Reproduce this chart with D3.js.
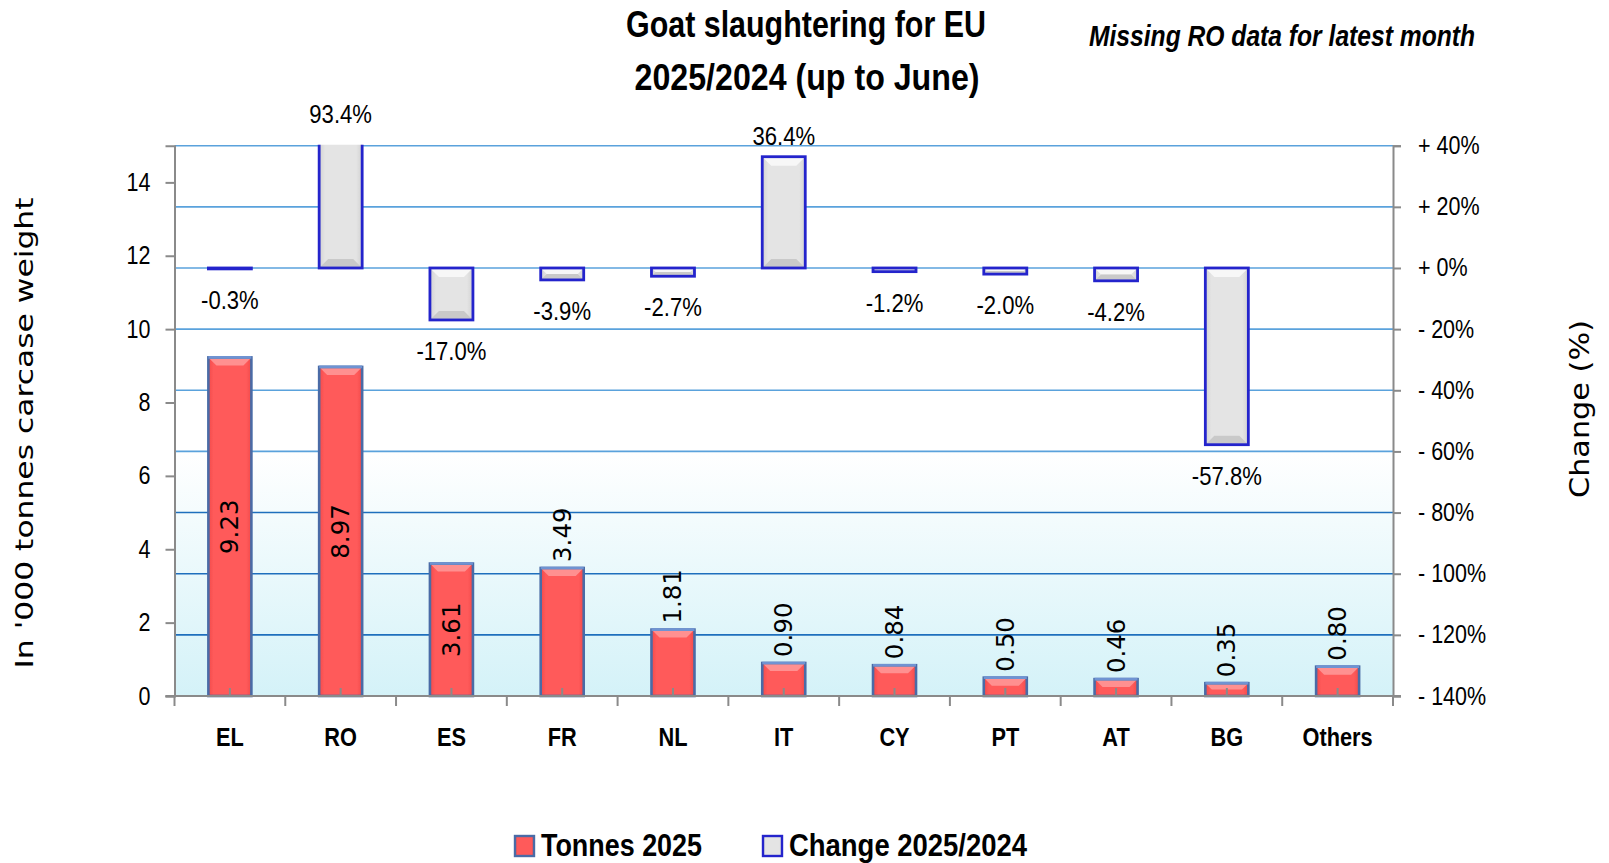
<!DOCTYPE html>
<html>
<head>
<meta charset="utf-8">
<script src="https://cdn.jsdelivr.net/npm/d3@7"></script>
<style>
  html, body { margin: 0; padding: 0; background: #ffffff; }
  svg { display: block; }
  .narrow { font-family: "Liberation Sans Narrow", "Liberation Sans", Arial, sans-serif; }
  .wide { font-family: "DejaVu Sans", Verdana, sans-serif; }
</style>
</head>
<body>
<svg id="chart" width="1609" height="863"></svg>
<script>
// ---------------- data ----------------
const categories = ["EL", "RO", "ES", "FR", "NL", "IT", "CY", "PT", "AT", "BG", "Others"];
const tonnes2025 = [9.23, 8.97, 3.61, 3.49, 1.81, 0.90, 0.84, 0.50, 0.46, 0.35, 0.80];
const change2025_2024 = [-0.3, 93.4, -17.0, -3.9, -2.7, 36.4, -1.2, -2.0, -4.2, -57.8, null];
const leftTicks = [0, 2, 4, 6, 8, 10, 12, 14];
const rightTicks = [40, 20, 0, -20, -40, -60, -80, -100, -120, -140];
const seriesNames = ["Tonnes 2025", "Change 2025/2024"];
const titleLines = ["Goat slaughtering for EU", "2025/2024 (up to June)"];
const noteText = "Missing RO data for latest month";
const leftAxisTitle = "In '000 tonnes  carcase  weight";
const rightAxisTitle = "Change  (%)";

// ---------------- layout ----------------
const plot = { left: 174.5, right: 1393, top: 145.7, bottom: 696 };
const svg = d3.select("#chart");

const x = d3.scaleBand().domain(categories).range([plot.left, plot.right]).padding(0);
const yL = d3.scaleLinear().domain([0, 15]).range([plot.bottom, plot.top]);
const yR = d3.scaleLinear().domain([-140, 40]).range([plot.bottom, plot.top]);
const barW = 43;

const hyphen = s => s.replace(/\u2212/g, "-");
function condense(sel, k) {
  sel.each(function () {
    const w = this.getComputedTextLength();
    d3.select(this).attr("textLength", w * k).attr("lengthAdjust", "spacingAndGlyphs");
  });
}

const defs = svg.append("defs");
const bg = defs.append("linearGradient").attr("id", "bgGrad").attr("x1", 0).attr("y1", 0).attr("x2", 0).attr("y2", 1);
bg.append("stop").attr("offset", "0%").attr("stop-color", "#ffffff");
bg.append("stop").attr("offset", "100%").attr("stop-color", "#d4f2f8");

const redG = defs.append("linearGradient").attr("id", "redGrad").attr("x1", 0).attr("y1", 0).attr("x2", 1).attr("y2", 0);
redG.append("stop").attr("offset", "0%").attr("stop-color", "#f24a4a");
redG.append("stop").attr("offset", "12%").attr("stop-color", "#ff5a5a");
redG.append("stop").attr("offset", "88%").attr("stop-color", "#ff5a5a");
redG.append("stop").attr("offset", "100%").attr("stop-color", "#f24a4a");

const grayG = defs.append("linearGradient").attr("id", "grayGrad").attr("x1", 0).attr("y1", 0).attr("x2", 1).attr("y2", 0);
grayG.append("stop").attr("offset", "0%").attr("stop-color", "#d2d2d2");
grayG.append("stop").attr("offset", "14%").attr("stop-color", "#e4e4e4");
grayG.append("stop").attr("offset", "86%").attr("stop-color", "#e4e4e4");
grayG.append("stop").attr("offset", "100%").attr("stop-color", "#d2d2d2");

defs.append("clipPath").attr("id", "plotClip").append("rect")
  .attr("x", plot.left).attr("y", plot.top - 1)
  .attr("width", plot.right - plot.left).attr("height", plot.bottom - plot.top + 1);

// plot background: white upper area, gradient from -60% gridline to bottom
svg.append("rect")
  .attr("x", plot.left).attr("y", yR(-60))
  .attr("width", plot.right - plot.left).attr("height", plot.bottom - yR(-60))
  .attr("fill", "url(#bgGrad)");

// gridlines (right-axis ticks)
svg.append("g").selectAll("line")
  .data(rightTicks.filter(v => v !== -140))
  .join("line")
  .attr("x1", plot.left).attr("x2", plot.right)
  .attr("y1", d => yR(d)).attr("y2", d => yR(d))
  .attr("stroke", d => d <= -80 ? "#1e6fbd" : "#5aa2dc")
  .attr("stroke-width", 1.6);

// ---------------- red bars (Tonnes 2025) ----------------
const redBars = svg.append("g");
categories.forEach((c, i) => {
  const v = tonnes2025[i];
  const cx = x(c) + x.bandwidth() / 2;
  const x0 = cx - barW / 2, y0 = yL(v), h = yL(0) - yL(v);
  const g = redBars.append("g");
  g.append("rect").attr("x", x0).attr("y", y0).attr("width", barW).attr("height", h)
    .attr("fill", "url(#redGrad)");
  const b = Math.min(8, h / 2);
  g.append("path")
    .attr("d", `M${x0},${y0} L${x0 + barW},${y0} L${x0 + barW - b},${y0 + b} L${x0 + b},${y0 + b} Z`)
    .attr("fill", "#ff9a9a").attr("opacity", 0.85);
  g.append("rect").attr("x", x0).attr("y", y0).attr("width", barW).attr("height", h)
    .attr("fill", "none").attr("stroke", "#4a6ba6").attr("stroke-width", 2.6);
  g.append("line").attr("x1", x0).attr("x2", x0 + barW).attr("y1", y0).attr("y2", y0)
    .attr("stroke", "#6f93d2").attr("stroke-width", 2.6);
});

// ---------------- change bars ----------------
const chBars = svg.append("g").attr("clip-path", "url(#plotClip)");
categories.forEach((c, i) => {
  const v = change2025_2024[i];
  if (v === null) return;
  const cx = x(c) + x.bandwidth() / 2;
  const x0 = cx - barW / 2;
  const yTop = Math.min(yR(v), yR(0)), yBot = Math.max(yR(v), yR(0));
  const h = yBot - yTop;
  const g = chBars.append("g");
  g.append("rect").attr("x", x0).attr("y", yTop).attr("width", barW).attr("height", h)
    .attr("fill", "url(#grayGrad)");
  const b = Math.min(9, h / 2);
  if (h > 6) {
    g.append("path")
      .attr("d", `M${x0},${yTop} L${x0 + barW},${yTop} L${x0 + barW - b},${yTop + b} L${x0 + b},${yTop + b} Z`)
      .attr("fill", "#f7f7f7");
    g.append("path")
      .attr("d", `M${x0},${yBot} L${x0 + barW},${yBot} L${x0 + barW - b},${yBot - b} L${x0 + b},${yBot - b} Z`)
      .attr("fill", "#c9c9c9");
  }
  g.append("rect").attr("x", x0).attr("y", yTop).attr("width", barW).attr("height", h)
    .attr("fill", "none").attr("stroke", "#2424cc").attr("stroke-width", 2.8);
});

// ---------------- axes ----------------
const axisColor = "#8a8a8a";
const leftAxis = svg.append("g").attr("transform", `translate(${plot.left},0)`)
  .call(d3.axisLeft(yL).tickValues(leftTicks).tickSize(9).tickPadding(15).tickFormat(d3.format("d")));
const rightAxis = svg.append("g").attr("transform", `translate(${plot.right},0)`)
  .call(d3.axisRight(yR).tickValues(rightTicks).tickSize(8).tickPadding(17)
    .tickFormat(d => (d >= 0 ? "+ " : "- ") + Math.abs(d) + "%"));
[leftAxis, rightAxis].forEach(a => {
  a.select(".domain").attr("stroke", axisColor).attr("stroke-width", 2);
  a.selectAll(".tick line").attr("stroke", axisColor).attr("stroke-width", 2);
  a.selectAll(".tick text").attr("class", "narrow").attr("fill", "#000")
    .style("font-size", "25px").call(condense, 0.86);
});
// bottom category axis
const bottom = svg.append("g");
bottom.append("line").attr("x1", plot.left - 9).attr("x2", plot.right + 8)
  .attr("y1", plot.bottom).attr("y2", plot.bottom)
  .attr("stroke", axisColor).attr("stroke-width", 2.2);
const bounds = categories.map(c => x(c)).concat([plot.right]);
bottom.selectAll("line.b").data(bounds).join("line").attr("class", "b")
  .attr("x1", d => d).attr("x2", d => d).attr("y1", plot.bottom).attr("y2", plot.bottom + 10)
  .attr("stroke", axisColor).attr("stroke-width", 2);
bottom.selectAll("line.c").data(categories).join("line").attr("class", "c")
  .attr("x1", d => x(d) + x.bandwidth() / 2).attr("x2", d => x(d) + x.bandwidth() / 2)
  .attr("y1", plot.bottom - 8).attr("y2", plot.bottom)
  .attr("stroke", axisColor).attr("stroke-width", 2);
bottom.selectAll("text").data(categories).join("text")
  .attr("class", "narrow")
  .attr("x", d => x(d) + x.bandwidth() / 2).attr("y", 746)
  .attr("text-anchor", "middle").attr("font-weight", "bold").attr("font-size", 25)
  .text(d => d)
  .call(condense, 0.87);

// ---------------- data labels ----------------
svg.append("g").selectAll("text")
  .data(categories.map((c, i) => ({ c, v: change2025_2024[i] })).filter(d => d.v !== null))
  .join("text")
  .attr("class", "narrow")
  .attr("x", d => x(d.c) + x.bandwidth() / 2)
  .attr("y", d => d.v > 40 ? plot.top - 32 : (d.v >= 0 ? yR(d.v) - 21 : yR(d.v) + 31))
  .attr("text-anchor", "middle").attr("dominant-baseline", "central")
  .attr("font-size", 26)
  .text(d => hyphen(d3.format(".1f")(d.v)) + "%")
  .call(condense, 0.85);

svg.append("g").selectAll("text")
  .data(categories.map((c, i) => ({ c, v: tonnes2025[i] })))
  .join("text")
  .attr("class", "wide")
  .attr("font-size", 24.5)
  .attr("text-anchor", d => d.v >= 3.5 ? "middle" : "start")
  .attr("dominant-baseline", "central")
  .attr("transform", d => {
    const cx = x(d.c) + x.bandwidth() / 2;
    const cy = d.v >= 3.5 ? (yL(d.v) + yL(0)) / 2 : yL(d.v) - 6;
    return `translate(${cx},${cy}) rotate(-90)`;
  })
  .text(d => d3.format(".2f")(d.v));

// ---------------- titles ----------------
svg.append("text").attr("class", "narrow").attr("x", 806).attr("y", 37)
  .attr("text-anchor", "middle").attr("font-weight", "bold").attr("font-size", 36)
  .attr("textLength", 360).attr("lengthAdjust", "spacingAndGlyphs")
  .text(titleLines[0]);
svg.append("text").attr("class", "narrow").attr("x", 807).attr("y", 90)
  .attr("text-anchor", "middle").attr("font-weight", "bold").attr("font-size", 36)
  .attr("textLength", 345).attr("lengthAdjust", "spacingAndGlyphs")
  .text(titleLines[1]);
svg.append("text").attr("class", "narrow").attr("x", 1282).attr("y", 46)
  .attr("text-anchor", "middle").attr("font-weight", "bold").attr("font-style", "italic").attr("font-size", 30)
  .attr("textLength", 386).attr("lengthAdjust", "spacingAndGlyphs")
  .text(noteText);

svg.append("text").attr("class", "wide")
  .attr("transform", `translate(33,433) rotate(-90)`)
  .attr("text-anchor", "middle").attr("font-size", 25)
  .attr("textLength", 471).attr("lengthAdjust", "spacingAndGlyphs")
  .text(leftAxisTitle);
svg.append("text").attr("class", "wide")
  .attr("transform", `translate(1589,409) rotate(-90)`)
  .attr("text-anchor", "middle").attr("font-size", 27)
  .attr("textLength", 178).attr("lengthAdjust", "spacingAndGlyphs")
  .text(rightAxisTitle);

// ---------------- legend ----------------
const legend = svg.append("g");
const legItems = [
  { name: seriesNames[0], x: 514, tx: 541, tw: 161, fill: "url(#redGrad)", stroke: "#4a6ba6" },
  { name: seriesNames[1], x: 762, tx: 789, tw: 238, fill: "url(#grayGrad)", stroke: "#2424cc" }
];
legItems.forEach(d => {
  legend.append("rect").attr("x", d.x + 1).attr("y", 836).attr("width", 19).attr("height", 20)
    .attr("fill", d.fill).attr("stroke", d.stroke).attr("stroke-width", 2.4);
  legend.append("text").attr("class", "narrow").attr("x", d.tx).attr("y", 856)
    .attr("font-weight", "bold").attr("font-size", 31)
    .attr("textLength", d.tw).attr("lengthAdjust", "spacingAndGlyphs")
    .text(d.name);
});
</script>
</body>
</html>
